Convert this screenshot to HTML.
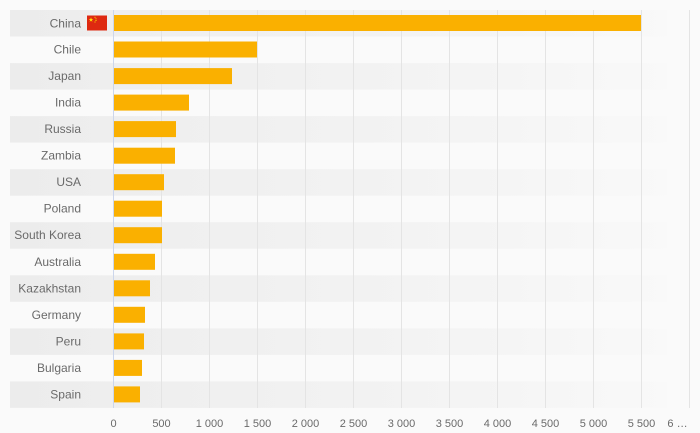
<!DOCTYPE html>
<html><head><meta charset="utf-8">
<style>
html,body{margin:0;padding:0;background:#fafafa;}
svg{display:block;}
text{font-family:"Liberation Sans",sans-serif;fill:#6a6a6a;}
</style></head>
<body>
<svg width="700" height="433" viewBox="0 0 700 433" xmlns="http://www.w3.org/2000/svg">
<defs>
<linearGradient id="bg" x1="0" y1="0" x2="1" y2="0">
<stop offset="0" stop-color="#ececec"/>
<stop offset="0.25" stop-color="#efefef"/>
<stop offset="0.7" stop-color="#f4f4f4"/>
<stop offset="1" stop-color="#f9f9f9"/>
</linearGradient>
</defs>
<rect width="700" height="433" fill="#fafafa"/>
<g fill="url(#bg)">
<rect x="10" y="10" width="657" height="26.5"/>
<rect x="10" y="63.1" width="657" height="26.5"/>
<rect x="10" y="116.1" width="657" height="26.5"/>
<rect x="10" y="169.2" width="657" height="26.5"/>
<rect x="10" y="222.2" width="657" height="26.5"/>
<rect x="10" y="275.3" width="657" height="26.5"/>
<rect x="10" y="328.4" width="657" height="26.5"/>
<rect x="10" y="381.4" width="657" height="26.5"/>
</g>
<g stroke="#e4e4e4" stroke-width="1">
<line x1="161.5" y1="10" x2="161.5" y2="408"/>
<line x1="209.5" y1="10" x2="209.5" y2="408"/>
<line x1="257.5" y1="10" x2="257.5" y2="408"/>
<line x1="305.5" y1="10" x2="305.5" y2="408"/>
<line x1="353.5" y1="10" x2="353.5" y2="408"/>
<line x1="401.5" y1="10" x2="401.5" y2="408"/>
<line x1="449.5" y1="10" x2="449.5" y2="408"/>
<line x1="497.5" y1="10" x2="497.5" y2="408"/>
<line x1="545.5" y1="10" x2="545.5" y2="408"/>
<line x1="593.5" y1="10" x2="593.5" y2="408"/>
<line x1="641.5" y1="10" x2="641.5" y2="408"/>
<line x1="689.5" y1="10" x2="689.5" y2="408"/>
</g>
<g fill="#fab000">
<rect x="114" y="15" width="527" height="16"/>
<rect x="114" y="41.5" width="143" height="16"/>
<rect x="114" y="68.1" width="118" height="16"/>
<rect x="114" y="94.6" width="75" height="16"/>
<rect x="114" y="121.1" width="62" height="16"/>
<rect x="114" y="147.7" width="61" height="16"/>
<rect x="114" y="174.2" width="50" height="16"/>
<rect x="114" y="200.7" width="48" height="16"/>
<rect x="114" y="227.2" width="48" height="16"/>
<rect x="114" y="253.8" width="41" height="16"/>
<rect x="114" y="280.3" width="36" height="16"/>
<rect x="114" y="306.8" width="31" height="16"/>
<rect x="114" y="333.4" width="30" height="16"/>
<rect x="114" y="359.9" width="28" height="16"/>
<rect x="114" y="386.4" width="26" height="16"/>
</g>
<line x1="113.5" y1="10" x2="113.5" y2="408" stroke="#ccd6eb" stroke-width="1"/>
<g font-size="12" text-anchor="end">
<text x="81" y="27.5">China</text>
<text x="81" y="53.5">Chile</text>
<text x="81" y="80">Japan</text>
<text x="81" y="106.6">India</text>
<text x="81" y="133.1">Russia</text>
<text x="81" y="159.7">Zambia</text>
<text x="81" y="186.2">USA</text>
<text x="81" y="212.7">Poland</text>
<text x="81" y="239.2">South Korea</text>
<text x="81" y="265.8">Australia</text>
<text x="81" y="292.3">Kazakhstan</text>
<text x="81" y="318.8">Germany</text>
<text x="81" y="345.4">Peru</text>
<text x="81" y="371.9">Bulgaria</text>
<text x="81" y="398.4">Spain</text>
</g>
<rect x="87" y="15.5" width="20" height="15" fill="#de2910"/>
<polygon points="91,17.3 91.6,19 93.3,19 91.9,20 92.4,21.7 91,20.7 89.6,21.7 90.1,20 88.7,19 90.4,19" fill="#ffde00"/>
<g fill="#ffde00">
<rect x="94.5" y="16.8" width="1" height="1"/>
<rect x="95.5" y="18.3" width="1" height="1"/>
<rect x="95.5" y="20" width="1" height="1"/>
<rect x="94.5" y="21.5" width="1" height="1"/>
</g>
<g font-size="11" text-anchor="middle">
<text x="113.5" y="427">0</text>
<text x="161.5" y="427">500</text>
<text x="209.5" y="427">1 000</text>
<text x="257.5" y="427">1 500</text>
<text x="305.5" y="427">2 000</text>
<text x="353.5" y="427">2 500</text>
<text x="401.5" y="427">3 000</text>
<text x="449.5" y="427">3 500</text>
<text x="497.5" y="427">4 000</text>
<text x="545.5" y="427">4 500</text>
<text x="593.5" y="427">5 000</text>
<text x="641.5" y="427">5 500</text>
<text x="677.5" y="427">6 …</text>
</g>
</svg>
</body></html>
